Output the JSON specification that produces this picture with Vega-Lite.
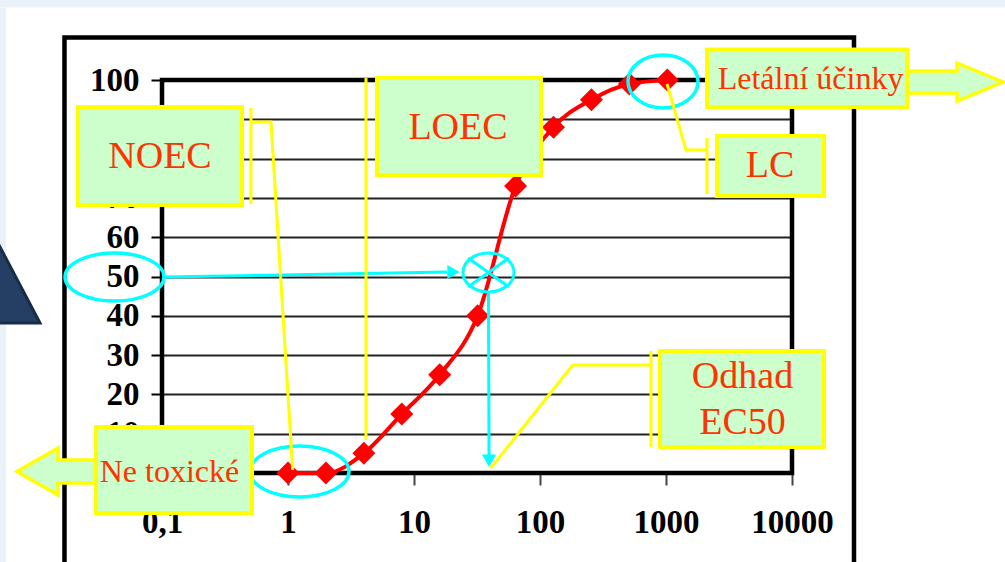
{
  "$schema": "https://vega.github.io/schema/vega-lite/v6.json",
  "width": 630,
  "height": 393,
  "autosize": {"type": "none"},
  "padding": {"left": 162, "top": 80, "right": 213, "bottom": 89},
  "background": "white",
  "config": {"view": {"stroke": null}},
  "datasets": {
    "dose": [
      {"x": 1, "y": 0}, {"x": 2, "y": 0}, {"x": 4, "y": 5}, {"x": 8, "y": 15},
      {"x": 16, "y": 25}, {"x": 32, "y": 40}, {"x": 64, "y": 73}, {"x": 128, "y": 88},
      {"x": 256, "y": 95}, {"x": 512, "y": 99}, {"x": 1024, "y": 100}
    ],
    "strips": [
      {"k": "top", "x": 0.005179, "x2": 489800, "y": 120.36, "y2": 118.45},
      {"k": "left", "x": 0.005179, "x2": 0.005779, "y": 118.45, "y2": -22.65}
    ],
    "frames": [
      {"k": "outer", "x": 0.01683, "x2": 31050, "y": 110.81, "y2": -30},
      {"k": "plot", "x": 0.1, "x2": 10000, "y": 0, "y2": 100}
    ],
    "anchors": [
      {"name": "tri", "x": 0.005179, "y": 51.65},
      {"name": "e50", "x": 0.04198, "y": 49.87},
      {"name": "eLow", "x": 1.234, "y": 0.38},
      {"name": "eTop", "x": 946.6, "y": 99.62},
      {"name": "eEC", "x": 39.0, "y": 51.02},
      {"name": "arrR", "x": 196800, "y": 99.49},
      {"name": "arrL", "x": 0.01762, "y": 0.38}
    ],
    "cyan": [
      {"id": "h", "o": 0, "x": 0.1037, "y": 49.87},
      {"id": "h", "o": 1, "x": 18.27, "y": 51.15},
      {"id": "v", "o": 0, "x": 39.0, "y": 46.06},
      {"id": "v", "o": 1, "x": 39.4, "y": 4.58}
    ],
    "heads": [
      {"dir": "r", "x": 20.57, "y": 51.15},
      {"dir": "d", "x": 39.4, "y": 3.18}
    ],
    "yellow": [
      {"id": "noecB", "o": 0, "x": 0.5081, "y": 92.88},
      {"id": "noecB", "o": 1, "x": 0.5081, "y": 68.45},
      {"id": "noec", "o": 0, "x": 0.5081, "y": 89.31},
      {"id": "noec", "o": 1, "x": 0.7329, "y": 89.31},
      {"id": "noec", "o": 2, "x": 1.089, "y": 0.76},
      {"id": "loec", "o": 0, "x": 4.159, "y": 100.51},
      {"id": "loec", "o": 1, "x": 4.159, "y": 8.4},
      {"id": "lc", "o": 0, "x": 1019, "y": 98.98},
      {"id": "lc", "o": 1, "x": 1442, "y": 82.19},
      {"id": "lc", "o": 2, "x": 2115, "y": 82.19},
      {"id": "lcB", "o": 0, "x": 2115, "y": 85.24},
      {"id": "lcB", "o": 1, "x": 2115, "y": 70.99},
      {"id": "ecB", "o": 0, "x": 760.3, "y": 31.04},
      {"id": "ecB", "o": 1, "x": 760.3, "y": 6.62},
      {"id": "ec", "o": 0, "x": 760.3, "y": 27.48},
      {"id": "ec", "o": 1, "x": 181.7, "y": 27.48},
      {"id": "ec", "o": 2, "x": 40.6, "y": 1.2}
    ],
    "boxes": [
      {"id": "NOEC", "x": 0.02154, "x2": 0.4316, "y": 93.13, "y2": 68.19},
      {"id": "LOEC", "x": 5.085, "x2": 101.8, "y": 100.51, "y2": 75.83},
      {"id": "Letal", "x": 2115, "x2": 81850, "y": 107.76, "y2": 93.13},
      {"id": "LC", "x": 2541, "x2": 17950, "y": 85.75, "y2": 70.48},
      {"id": "EC50", "x": 896.1, "x2": 17950, "y": 31.04, "y2": 6.62},
      {"id": "Ne", "x": 0.02994, "x2": 0.5179, "y": 11.7, "y2": -10.18}
    ],
    "labels": [
      {"kind": "big", "t": "NOEC", "x": 0.0964, "y": 80.41},
      {"kind": "big", "t": "LOEC", "x": 22.35, "y": 87.66},
      {"kind": "big", "t": "LC", "x": 6686, "y": 77.99},
      {"kind": "big", "t": "Odhad", "x": 4048, "y": 24.43},
      {"kind": "big", "t": "EC50", "x": 4048, "y": 12.6},
      {"kind": "small", "t": "Letální účinky", "x": 14030, "y": 100.25},
      {"kind": "small", "t": "Ne toxické", "x": 0.1147, "y": 0.13}
    ]
  },
  "encoding": {
    "x": {
      "field": "x", "type": "quantitative",
      "scale": {"type": "log", "domain": [0.1, 10000], "nice": false},
      "axis": {
        "title": null, "values": [0.1, 1, 10, 100, 1000, 10000],
        "labelExpr": "datum.value < 0.5 ? '0,1' : format(datum.value, 'd')",
        "labelFont": "Times New Roman, Liberation Serif, DejaVu Serif, serif", "labelFontWeight": "bold", "labelFontSize": 33,
        "labelColor": "black", "labelPadding": 21, "labelBaseline": "top",
        "labelFlush": false, "labelOverlap": false,
        "tickColor": "#444", "tickWidth": 2, "tickSize": 12,
        "domain": false, "grid": false
      }
    },
    "y": {
      "field": "y", "type": "quantitative",
      "scale": {"domain": [0, 100], "nice": false, "zero": false},
      "axis": {
        "title": null, "values": [0, 10, 20, 30, 40, 50, 60, 70, 80, 90, 100],
        "labelFont": "Times New Roman, Liberation Serif, DejaVu Serif, serif", "labelFontWeight": "bold", "labelFontSize": 33,
        "labelColor": "black", "labelPadding": 12, "labelFlush": false, "labelOverlap": false,
        "tickColor": "black", "tickWidth": 2, "tickSize": 11,
        "domain": false, "grid": true, "gridColor": "#222", "gridWidth": 1.8, "gridOpacity": 1
      }
    }
  },
  "layer": [
    {
      "data": {"name": "strips"},
      "mark": {"type": "rect", "fill": "#eaf1f8", "strokeWidth": 0},
      "encoding": {"x2": {"field": "x2"}, "y2": {"field": "y2"}}
    },
    {
      "data": {"name": "anchors"},
      "transform": [{"filter": "datum.name == 'tri'"}],
      "mark": {"type": "point", "shape": "M-0.4286,-1.1429L0.5714,0.7571L-0.857,0.7571Z", "size": 19600, "filled": true, "fill": "#243f63", "stroke": "#182b47", "strokeWidth": 3, "opacity": 1}
    },
    {
      "data": {"name": "frames"},
      "mark": {"type": "rect", "filled": false, "stroke": "black", "strokeWidth": 4.5},
      "encoding": {"x2": {"field": "x2"}, "y2": {"field": "y2"}}
    },
    {
      "data": {"name": "dose"},
      "mark": {"type": "line", "interpolate": "monotone", "color": "#ff0000", "strokeWidth": 4}
    },
    {
      "data": {"name": "dose"},
      "mark": {"type": "point", "shape": "diamond", "filled": true, "size": 530, "color": "#ff0000", "opacity": 1, "strokeWidth": 0}
    },
    {
      "data": {"name": "cyan"},
      "mark": {"type": "line", "color": "#00ffff", "strokeWidth": 3},
      "encoding": {"detail": {"field": "id"}, "order": {"field": "o", "type": "quantitative"}}
    },
    {
      "data": {"name": "heads"},
      "mark": {"type": "point", "filled": true, "size": 200, "color": "#00ffff", "opacity": 1, "strokeWidth": 0},
      "encoding": {"shape": {"field": "dir", "type": "nominal", "scale": {"domain": ["r", "d"], "range": ["triangle-right", "triangle-down"]}, "legend": null}}
    },
    {
      "data": {"name": "anchors"},
      "transform": [{"filter": "datum.name == 'e50'"}],
      "mark": {"type": "point", "shape": "M-1,0A1,0.485,0,1,0,1,0A1,0.485,0,1,0,-1,0Z", "size": 9801, "filled": false, "color": "#00ffff", "strokeWidth": 3.5, "opacity": 1}
    },
    {
      "data": {"name": "anchors"},
      "transform": [{"filter": "datum.name == 'eLow'"}],
      "mark": {"type": "point", "shape": "M-1,0A1,0.515,0,1,0,1,0A1,0.515,0,1,0,-1,0Z", "size": 9801, "filled": false, "color": "#00ffff", "strokeWidth": 3.5, "opacity": 1}
    },
    {
      "data": {"name": "anchors"},
      "transform": [{"filter": "datum.name == 'eTop'"}],
      "mark": {"type": "point", "shape": "M-1,0A1,0.757,0,1,0,1,0A1,0.757,0,1,0,-1,0Z", "size": 4900, "filled": false, "color": "#00ffff", "strokeWidth": 3.5, "opacity": 1}
    },
    {
      "data": {"name": "anchors"},
      "transform": [{"filter": "datum.name == 'eEC'"}],
      "mark": {"type": "point", "shape": "M-1,0A1,0.765,0,1,0,1,0A1,0.765,0,1,0,-1,0ZM-0.8,-0.57L0.8,0.57M-0.8,0.57L0.8,-0.57", "size": 2601, "filled": false, "color": "#00ffff", "strokeWidth": 3, "opacity": 1}
    },
    {
      "data": {"name": "yellow"},
      "mark": {"type": "line", "color": "#ffff00", "strokeWidth": 3},
      "encoding": {"detail": {"field": "id"}, "order": {"field": "o", "type": "quantitative"}}
    },
    {
      "data": {"name": "anchors"},
      "transform": [{"filter": "datum.name == 'arrR'"}],
      "mark": {"type": "point", "shape": "M-1,-0.229L0.042,-0.229L0.042,-0.396L1,0L0.042,0.396L0.042,0.229L-1,0.229Z", "size": 9216, "filled": true, "fill": "#ccffcc", "stroke": "#ffff00", "strokeWidth": 3.5, "opacity": 1}
    },
    {
      "data": {"name": "anchors"},
      "transform": [{"filter": "datum.name == 'arrL'"}],
      "mark": {"type": "point", "shape": "M1,-0.23L-0.18,-0.23L-0.18,-0.47L-1,0L-0.18,0.47L-0.18,0.23L1,0.23Z", "size": 10000, "filled": true, "fill": "#ccffcc", "stroke": "#ffff00", "strokeWidth": 3.5, "opacity": 1}
    },
    {
      "data": {"name": "boxes"},
      "mark": {"type": "rect", "fill": "#ccffcc", "stroke": "#ffff00", "strokeWidth": 4},
      "encoding": {"x2": {"field": "x2"}, "y2": {"field": "y2"}}
    },
    {
      "data": {"name": "labels"},
      "transform": [{"filter": "datum.kind == 'big'"}],
      "mark": {"type": "text", "font": "Times New Roman, Liberation Serif, DejaVu Serif, serif", "fontSize": 38, "color": "#ff3300", "align": "center", "baseline": "middle"},
      "encoding": {"text": {"field": "t"}}
    },
    {
      "data": {"name": "labels"},
      "transform": [{"filter": "datum.kind == 'small'"}],
      "mark": {"type": "text", "font": "Times New Roman, Liberation Serif, DejaVu Serif, serif", "fontSize": 32, "color": "#ff3300", "align": "center", "baseline": "middle"},
      "encoding": {"text": {"field": "t"}}
    }
  ]
}
